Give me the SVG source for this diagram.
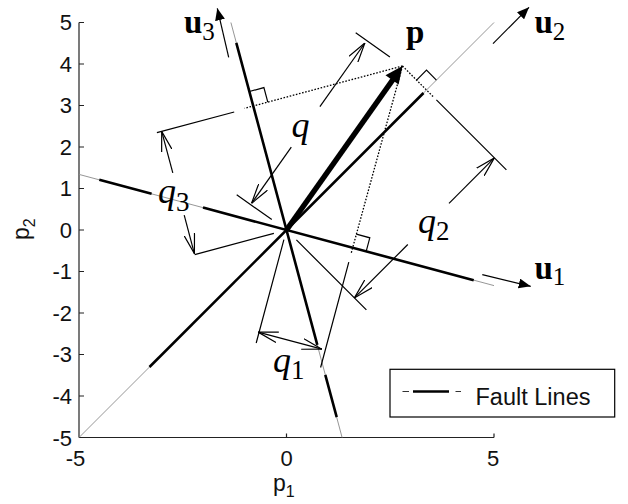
<svg xmlns="http://www.w3.org/2000/svg" width="628" height="504" viewBox="0 0 628 504">
<style>
.ax{stroke:#222;stroke-width:1.2;fill:none}
.thin{stroke:#8a8a8a;stroke-width:0.9;fill:none}
.fault{stroke:#000;stroke-width:2.6;fill:none}
.dim{stroke:#000;stroke-width:1.2;fill:none}
.dot{stroke:#000;stroke-width:1.3;stroke-dasharray:1.6 1.6;fill:none}
.tick{font-family:"Liberation Sans",Arial,sans-serif;font-size:22px;fill:#111}
.axl{font-family:"Liberation Sans",Arial,sans-serif;font-size:23px;fill:#111}
.axsub{font-size:16px}
.leg{font-family:"Liberation Sans",Arial,sans-serif;font-size:23.5px;fill:#111}
.bold{font-family:"Liberation Serif","Times New Roman",serif;font-size:33px;font-weight:bold;fill:#000}
.ital{font-family:"Liberation Serif","Times New Roman",serif;font-size:36px;font-style:italic;fill:#000}
.sub{font-weight:normal;font-style:normal;font-size:25px}
.qsub{font-style:normal;font-size:27px}
</style>
<defs>
<marker id="open" viewBox="0 0 20 12" refX="20" refY="6" markerWidth="20" markerHeight="12" markerUnits="userSpaceOnUse" orient="auto-start-reverse">
<path d="M0,0.6 L20,6 L0,11.4" fill="none" stroke="#000" stroke-width="1.2"/>
</marker>
<marker id="solid" viewBox="0 0 12 10" refX="12" refY="5" markerWidth="12" markerHeight="10" markerUnits="userSpaceOnUse" orient="auto">
<path d="M0,0 L12,5 L0,10 z" fill="#000"/>
</marker>
</defs>
<g id="axes">
<line class="ax" x1="79" y1="22.5" x2="79" y2="437.5"/>
<line class="ax" x1="79" y1="437.5" x2="494" y2="437.5"/>
<path class="ax" d="M79,22.5h5M79,64h5M79,105.5h5M79,147h5M79,188.5h5M79,230h5M79,271.5h5M79,313h5M79,354.5h5M79,396h5M286.5,437.5v-4M494,437.5v-4"/>
<g class="tick" text-anchor="end">
<text x="72" y="30">5</text><text x="72" y="71.5">4</text><text x="72" y="113">3</text><text x="72" y="154.5">2</text><text x="72" y="196">1</text><text x="72" y="237.5">0</text><text x="72" y="279">-1</text><text x="72" y="320.5">-2</text><text x="72" y="362">-3</text><text x="72" y="403.5">-4</text><text x="72" y="445.5">-5</text>
</g>
<g class="tick" text-anchor="middle">
<text x="75.5" y="466">-5</text><text x="286.5" y="465.5">0</text><text x="493" y="465.5">5</text>
</g>
<text class="axl" x="273" y="491">p<tspan class="axsub" dy="6">1</tspan></text>
<text class="axl" transform="translate(29,240) rotate(-90)">p<tspan class="axsub" dy="6">2</tspan></text>
</g>
<g id="connectors">
<line class="thin" x1="79" y1="174.4" x2="494" y2="285.6"/>
<line class="thin" x1="79" y1="437.5" x2="494" y2="22.5"/>
<line class="thin" x1="230.9" y1="22.5" x2="342.1" y2="437.5"/>
<path class="fault" d="M99.3,179.8L151.6,193.8M203,207.6L473.7,280.2"/>
<path class="fault" d="M149.5,367L423.5,93"/>
<path class="fault" d="M236.3,42.8L317.3,344.9M325.3,374.9L336.7,417.2"/>
<path class="dot" d="M402.5,66L351.1,253.5M402.5,66L433.6,97.1M402.5,66L244.6,108.3"/>
<path class="dim" d="M356.3,234.2L369.8,237.8L366.2,251.3"/>
<path class="dim" d="M416.6,80.1L426.5,70.2L436.4,80.1"/>
<path class="dim" d="M267.8,102.1L263.9,87.6L249.4,91.5"/>
<path class="dim" d="M283.9,239.7L256.2,343M348.8,262.2L320.6,367.5"/>
<path class="dim" d="M296.4,239.9L366.4,309.9M436.4,99.9L506.4,169.9"/>
<path class="dim" d="M273.9,233.4L194.7,254.6M234.2,112L156.9,132.7"/>
<path class="dim" d="M271.8,219.6L236.7,194.8M389.9,56.9L355.7,32.8"/>
<line class="dim" x1="258.1" y1="332.1" x2="321.9" y2="349.2" marker-start="url(#open)" marker-end="url(#open)"/>
<line class="dim" x1="449" y1="203.3" x2="494.4" y2="157.9" marker-end="url(#open)"/>
<line class="dim" x1="407.8" y1="244.5" x2="354.4" y2="297.9" marker-end="url(#open)"/>
<line class="dim" x1="172.8" y1="172.9" x2="161.7" y2="131.4" marker-end="url(#open)"/>
<line class="dim" x1="184.2" y1="215.2" x2="194.4" y2="253.6" marker-end="url(#open)"/>
<line class="dim" x1="291.3" y1="147.1" x2="251.5" y2="203.4" marker-end="url(#open)"/>
<line class="dim" x1="319.9" y1="106.6" x2="364.9" y2="43" marker-end="url(#open)"/>
<line class="dim" x1="482.3" y1="274.7" x2="530.7" y2="286.3" stroke-width="1.5" marker-end="url(#solid)"/>
<line class="dim" x1="493" y1="43.7" x2="529" y2="7.3" stroke-width="1.5" marker-end="url(#solid)"/>
<line class="dim" x1="228.7" y1="57.3" x2="217.3" y2="8.3" stroke-width="1.5" marker-end="url(#solid)"/>
</g>
<g id="p-vector">
<line x1="286.5" y1="230" x2="393" y2="79.5" stroke="#000" stroke-width="5.5"/>
<polygon points="402.5,66 385.5,75.3 398.6,84.5" fill="#000"/>
</g>
<g id="labels">
<text class="bold" x="406" y="43.3">p</text>
<text class="bold" x="534.5" y="278.7">u<tspan class="sub" dy="6.6">1</tspan></text>
<text class="bold" x="534.5" y="33.3">u<tspan class="sub" dy="6.7">2</tspan></text>
<text class="bold" x="184" y="33.3">u<tspan class="sub" dy="6.7">3</tspan></text>
<text class="ital" x="291.5" y="137">q</text>
<text class="ital" x="273" y="371.7">q<tspan class="qsub" dy="7.5">1</tspan></text>
<text class="ital" x="418" y="233">q<tspan class="qsub" dy="7">2</tspan></text>
<text class="ital" x="158" y="203">q<tspan class="qsub" dy="8">3</tspan></text>
</g>
<g id="legend">
<rect x="390" y="369.3" width="224.7" height="47.7" fill="#fff" stroke="#000" stroke-width="1.2"/>
<path d="M402.5,391.5H409M455.5,391.5H461" stroke="#333" stroke-width="1"/>
<line x1="413" y1="391.5" x2="449" y2="391.5" stroke="#000" stroke-width="2.6"/>
<text class="leg" x="475.5" y="405.3">Fault Lines</text>
</g>
</svg>
